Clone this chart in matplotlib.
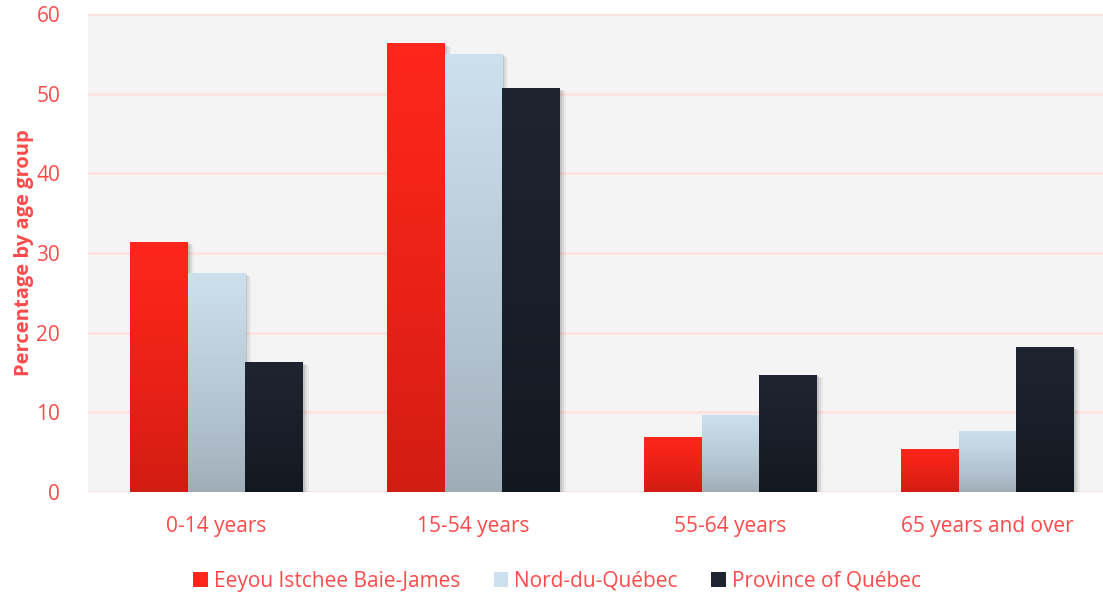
import matplotlib
matplotlib.use("Agg")
import matplotlib.pyplot as plt
import numpy as np
from matplotlib.colors import LinearSegmentedColormap
from matplotlib.patches import Rectangle

categories = ['0-14 years', '15-54 years', '55-64 years', '65 years and over']
series = ['Eeyou Istchee Baie-James', 'Nord-du-Québec', 'Province of Québec']
eeyou = [31.4, 56.3, 6.9, 5.4]
nord = [27.5, 55.0, 9.7, 7.7]
quebec = [16.3, 50.7, 14.7, 18.2]

# gradient colours (top, bottom)
grads = [('#ff261c', '#d01c12'), ('#cde0ee', '#9eacb7'), ('#1e2530', '#12181f')]
txt = '#ff4a4a'

plt.rcParams['font.family'] = ['Open Sans', 'DejaVu Sans']

fig = plt.figure(figsize=(11.03, 5.94), dpi=100)
ax = fig.add_axes([88 / 1103, 102 / 594, 1015 / 1103, 478 / 594])
ax.set_facecolor('#f4f4f4')

x = np.arange(len(categories))
w = 0.224
offs = [-w, 0, w]
grad = np.linspace(0, 1, 256).reshape(-1, 1) ** 0.8

for i, vals in enumerate([eeyou, nord, quebec]):
    cmap = LinearSegmentedColormap.from_list('g%d' % i, [grads[i][1], grads[i][0]])
    for xi, v in zip(x, vals):
        left = xi + offs[i] - w / 2
        # soft shadow
        for k, a in enumerate([0.10, 0.07, 0.04]):
            d = 0.004 * (k + 1)
            ax.add_patch(Rectangle((left + d, -0.3 - 0.1 * k), w + d, v + 0.1,
                                   facecolor='black', alpha=a, lw=0, zorder=2))
        rect = Rectangle((left, 0), w, v, facecolor='none', lw=0, zorder=3)
        ax.add_patch(rect)
        im = ax.imshow(grad, cmap=cmap, aspect='auto', origin='lower',
                       extent=(left, left + w, 0, v), zorder=3)
        im.set_clip_path(rect)

ax.set_xlim(-0.5, 3.449)
ax.set_ylim(0, 60)
ax.set_yticks(range(0, 61, 10))
ax.yaxis.grid(True, color='#fde2e2', lw=2)
ax.set_axisbelow(True)
for s in ax.spines.values():
    s.set_visible(False)
ax.axhline(0, color='#fde2e2', lw=2, zorder=1)

ax.set_xticks(x)
ax.set_xticklabels(categories)
ax.tick_params(length=0, colors=txt, labelsize=15)
ax.tick_params(axis='x', pad=17)
ax.tick_params(axis='y', pad=20)
ax.set_ylabel('Percentage by age group', color=txt, fontsize=14.5, fontweight='bold', labelpad=2)

handles = [Rectangle((0, 0), 1, 1, facecolor=g[0], edgecolor='none') for g in grads]
fig.legend(handles, series, loc='center', bbox_to_anchor=(0.505, 13 / 594), ncol=3,
           frameon=False, fontsize=15, labelcolor=txt, handlelength=0.7, handleheight=0.7,
           handletextpad=0.3, columnspacing=1.6)

fig.savefig('out.png', dpi=100)
